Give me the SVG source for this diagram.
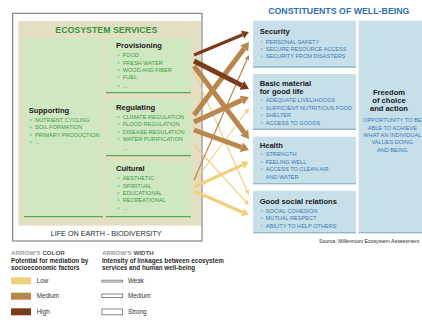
<svg xmlns="http://www.w3.org/2000/svg" width="422" height="320" viewBox="0 0 422 320">
  <style>
    text { font-family: "Liberation Sans", Arial, sans-serif; }
    .bg { fill: #ffffff; }
    .frame { fill: #ffffff; stroke: #6f6f6f; stroke-width: 1; }
    .beige { fill: #e4dfc2; }
    .gbox { fill: #cfe8c1; }
    .gedge { stroke: #4fae55; stroke-width: 1.2; }
    .bbox { fill: #c6dfe8; }
    .bedge { stroke: #8db7ca; stroke-width: 1.4; }
    .h-green { font-size: 8.8px; font-weight: bold; fill: #2f9a3c; }
    .h-blue { font-size: 8.8px; font-weight: bold; fill: #2c6fb3; }
    .ttl { font-size: 7.6px; font-weight: bold; fill: #1a1a1a; }
    .gi { font-size: 5.6px; fill: #3d9e44; }
    .bi { font-size: 5.6px; fill: #3a7bbd; }
    .gb { fill: #8fd08a; }
    .bb { fill: #9ec4dc; }
    .base { font-size: 7.2px; fill: #2b2b2b; }
    .src { font-size: 5.2px; fill: #2b2b2b; }
    .lg-h { font-size: 6.2px; font-weight: bold; fill: #9a9a9a; }
    .lg-hd { fill: #555555; }
    .lg-b { font-size: 6.3px; font-weight: bold; fill: #2b2b2b; }
    .lg-t { font-size: 6.3px; fill: #333333; }
    .wsym { fill: #ffffff; stroke: #6a6a6a; stroke-width: 0.8; }
    .lo { stroke: #f2cf7d; fill: none; }
    .md { stroke: #b9864b; fill: none; }
    .hi { stroke: #7b3b1b; fill: none; }
    .t { stroke-width: 1.2; }
    .m { stroke-width: 3.2; }
    .s { stroke-width: 5; }
  </style>
  <defs>
    <marker id="hd-hi-m" markerUnits="userSpaceOnUse" orient="auto" refX="0" refY="0" markerWidth="10" markerHeight="10" overflow="visible"><path d="M0,-4.2 L7,0 L0,4.2 z" fill="#7b3b1b"/></marker>
    <marker id="hd-hi-s" markerUnits="userSpaceOnUse" orient="auto" refX="0" refY="0" markerWidth="10" markerHeight="10" overflow="visible"><path d="M0,-5 L8,0 L0,5 z" fill="#7b3b1b"/></marker>
    <marker id="hd-md-s" markerUnits="userSpaceOnUse" orient="auto" refX="0" refY="0" markerWidth="10" markerHeight="10" overflow="visible"><path d="M0,-5 L8,0 L0,5 z" fill="#b9864b"/></marker>
    <marker id="hd-md-t" markerUnits="userSpaceOnUse" orient="auto" refX="0" refY="0" markerWidth="10" markerHeight="10" overflow="visible"><path d="M0,-2.4 L5,0 L0,2.4 z" fill="#b9864b"/></marker>
    <marker id="hd-lo-t" markerUnits="userSpaceOnUse" orient="auto" refX="0" refY="0" markerWidth="10" markerHeight="10" overflow="visible"><path d="M0,-2.4 L5,0 L0,2.4 z" fill="#f2cf7d"/></marker>
    <marker id="hd-lo-m" markerUnits="userSpaceOnUse" orient="auto" refX="0" refY="0" markerWidth="10" markerHeight="10" overflow="visible"><path d="M0,-4.2 L7,0 L0,4.2 z" fill="#f2cf7d"/></marker>
  </defs>

  <rect class="bg" x="0" y="0" width="422" height="320"/>

  <!-- Ecosystem services panel -->
  <g id="ecosystem-services">
    <rect class="frame" x="12.7" y="13.3" width="189.3" height="227.7"/>
    <rect class="beige" x="18.3" y="21" width="182.7" height="204.7"/>
    <text class="h-green" x="106.3" y="33.2" text-anchor="middle">ECOSYSTEM SERVICES</text>
    <text class="base" x="106.2" y="236.2" text-anchor="middle">LIFE ON EARTH - BIODIVERSITY</text>
  </g>

  <g id="supporting">
    <rect class="gbox" x="24" y="38" width="79" height="179"/>
    <line class="gedge" x1="24" y1="216.6" x2="103" y2="216.6"/>
    <text class="ttl" x="28.7" y="112.6">Supporting</text>
    <rect class="gb" x="29.8" y="119" width="2" height="2"/>
    <text class="gi" x="35" y="122">NUTRIENT CYCLING</text>
    <rect class="gb" x="29.8" y="126.3" width="2" height="2"/>
    <text class="gi" x="35" y="129.3">SOIL FORMATION</text>
    <rect class="gb" x="29.8" y="133.7" width="2" height="2"/>
    <text class="gi" x="35" y="136.7">PRIMARY PRODUCTION</text>
    <rect class="gb" x="29.8" y="141.3" width="2" height="2"/>
    <text class="gi" x="35" y="144.3">...</text>
  </g>

  <g id="provisioning">
    <rect class="gbox" x="106" y="38" width="85" height="55"/>
    <line class="gedge" x1="106" y1="92.6" x2="191" y2="92.6"/>
    <text class="ttl" x="116" y="48">Provisioning</text>
    <rect class="gb" x="117.4" y="54.3" width="2" height="2"/>
    <text class="gi" x="122.7" y="57.3">FOOD</text>
    <rect class="gb" x="117.4" y="61.7" width="2" height="2"/>
    <text class="gi" x="122.7" y="64.7">FRESH WATER</text>
    <rect class="gb" x="117.4" y="69" width="2" height="2"/>
    <text class="gi" x="122.7" y="72">WOOD AND FIBER</text>
    <rect class="gb" x="117.4" y="76.3" width="2" height="2"/>
    <text class="gi" x="122.7" y="79.3">FUEL</text>
    <rect class="gb" x="117.4" y="85" width="2" height="2"/>
    <text class="gi" x="122.7" y="88">...</text>
  </g>

  <g id="regulating">
    <rect class="gbox" x="106" y="99" width="85" height="57"/>
    <line class="gedge" x1="106" y1="155.6" x2="191" y2="155.6"/>
    <text class="ttl" x="116" y="110">Regulating</text>
    <rect class="gb" x="117.4" y="116" width="2" height="2"/>
    <text class="gi" x="122.7" y="119">CLIMATE REGULATION</text>
    <rect class="gb" x="117.4" y="123.3" width="2" height="2"/>
    <text class="gi" x="122.7" y="126.3">FLOOD REGULATION</text>
    <rect class="gb" x="117.4" y="130.7" width="2" height="2"/>
    <text class="gi" x="122.7" y="133.7">DISEASE REGULATION</text>
    <rect class="gb" x="117.4" y="138.3" width="2" height="2"/>
    <text class="gi" x="122.7" y="141.3">WATER PURIFICATION</text>
    <text class="gi" x="122.7" y="149.5">...</text>
  </g>

  <g id="cultural">
    <rect class="gbox" x="106" y="161" width="85" height="56"/>
    <line class="gedge" x1="106" y1="216.6" x2="191" y2="216.6"/>
    <text class="ttl" x="116" y="171">Cultural</text>
    <rect class="gb" x="117.4" y="177.3" width="2" height="2"/>
    <text class="gi" x="122.7" y="180.3">AESTHETIC</text>
    <rect class="gb" x="117.4" y="184.7" width="2" height="2"/>
    <text class="gi" x="122.7" y="187.7">SPIRITUAL</text>
    <rect class="gb" x="117.4" y="192" width="2" height="2"/>
    <text class="gi" x="122.7" y="195">EDUCATIONAL</text>
    <rect class="gb" x="117.4" y="199.3" width="2" height="2"/>
    <text class="gi" x="122.7" y="202.3">RECREATIONAL</text>
    <rect class="gb" x="117.4" y="207.3" width="2" height="2"/>
    <text class="gi" x="122.7" y="210.3">...</text>
  </g>

  <!-- Constituents of well-being -->
  <g id="well-being-title">
    <text class="h-blue" x="338.8" y="14" text-anchor="middle">CONSTITUENTS OF WELL-BEING</text>
  </g>

  <g id="security">
    <rect class="bbox" x="253" y="20.7" width="103" height="47"/>
    <line class="bedge" x1="253" y1="67" x2="356" y2="67"/>
    <text class="ttl" x="259.7" y="34.3">Security</text>
    <rect class="bb" x="260.7" y="40.7" width="2" height="2"/>
    <text class="bi" x="265.7" y="43.7">PERSONAL SAFETY</text>
    <rect class="bb" x="260.7" y="48" width="2" height="2"/>
    <text class="bi" x="265.7" y="51">SECURE RESOURCE ACCESS</text>
    <rect class="bb" x="260.7" y="55.3" width="2" height="2"/>
    <text class="bi" x="265.7" y="58.3">SECURITY FROM DISASTERS</text>
  </g>

  <g id="basic-material">
    <rect class="bbox" x="253" y="74" width="103" height="56"/>
    <line class="bedge" x1="253" y1="129.3" x2="356" y2="129.3"/>
    <text class="ttl" x="259.7" y="86">Basic material</text>
    <text class="ttl" x="259.7" y="94.4">for good life</text>
    <rect class="bb" x="260.7" y="99.3" width="2" height="2"/>
    <text class="bi" x="265.7" y="102.3">ADEQUATE LIVELIHOODS</text>
    <rect class="bb" x="260.7" y="106.7" width="2" height="2"/>
    <text class="bi" x="265.7" y="109.7">SUFFICIENT NUTRITIOUS FOOD</text>
    <rect class="bb" x="260.7" y="114.3" width="2" height="2"/>
    <text class="bi" x="265.7" y="117.3">SHELTER</text>
    <rect class="bb" x="260.7" y="121.7" width="2" height="2"/>
    <text class="bi" x="265.7" y="124.7">ACCESS TO GOODS</text>
  </g>

  <g id="health">
    <rect class="bbox" x="253" y="136.7" width="103" height="47.6"/>
    <line class="bedge" x1="253" y1="183.6" x2="356" y2="183.6"/>
    <text class="ttl" x="259.7" y="147.7">Health</text>
    <rect class="bb" x="260.7" y="153.3" width="2" height="2"/>
    <text class="bi" x="265.7" y="156.3">STRENGTH</text>
    <rect class="bb" x="260.7" y="161" width="2" height="2"/>
    <text class="bi" x="265.7" y="164">FEELING WELL</text>
    <rect class="bb" x="260.7" y="168.3" width="2" height="2"/>
    <text class="bi" x="265.7" y="171.3">ACCESS TO CLEAN AIR</text>
    <text class="bi" x="265.7" y="178.7">AND WATER</text>
  </g>

  <g id="social-relations">
    <rect class="bbox" x="253" y="190.7" width="103" height="42.6"/>
    <line class="bedge" x1="253" y1="232.6" x2="356" y2="232.6"/>
    <text class="ttl" x="259.7" y="204">Good social relations</text>
    <rect class="bb" x="260.7" y="209.7" width="2" height="2"/>
    <text class="bi" x="265.7" y="212.7">SOCIAL COHESION</text>
    <rect class="bb" x="260.7" y="217" width="2" height="2"/>
    <text class="bi" x="265.7" y="220">MUTUAL RESPECT</text>
    <rect class="bb" x="260.7" y="224.7" width="2" height="2"/>
    <text class="bi" x="265.7" y="227.7">ABILITY TO HELP OTHERS</text>
  </g>

  <g id="freedom">
    <rect class="bbox" x="358.7" y="20.7" width="70" height="212.6"/>
    <line class="bedge" x1="358.7" y1="232.6" x2="428" y2="232.6"/>
    <text class="ttl" x="389" y="95" text-anchor="middle">Freedom</text>
    <text class="ttl" x="389" y="103" text-anchor="middle">of choice</text>
    <text class="ttl" x="389" y="111.4" text-anchor="middle">and action</text>
    <text class="bi" x="392.3" y="122.3" text-anchor="middle">OPPORTUNITY TO BE</text>
    <text class="bi" x="392.3" y="129.7" text-anchor="middle">ABLE TO ACHIEVE</text>
    <text class="bi" x="392.3" y="137" text-anchor="middle">WHAT AN INDIVIDUAL</text>
    <text class="bi" x="392.3" y="144.3" text-anchor="middle">VALUES DOING</text>
    <text class="bi" x="392.3" y="151.7" text-anchor="middle">AND BEING</text>
  </g>

  <text class="src" x="319" y="242.6">Source: Millennium Ecosystem Assessment</text>

  <!-- Linkage arrows: colour = mediation potential, width = intensity -->
  <g id="connectors">
    <line class="lo t" x1="194" y1="72" x2="246.96" y2="190.44" marker-end="url(#hd-lo-t)"/>
    <line class="lo t" x1="194" y1="145" x2="245.62" y2="201.31" marker-end="url(#hd-lo-t)"/>
    <line class="lo t" x1="194" y1="182" x2="246.02" y2="112.01" marker-end="url(#hd-lo-t)"/>
    <line class="md t" x1="194" y1="180" x2="246.99" y2="59.58" marker-end="url(#hd-md-t)"/>
    <line class="lo m" x1="194" y1="187" x2="242.63" y2="164.9" marker-end="url(#hd-lo-m)"/>
    <line class="lo m" x1="194" y1="191" x2="242.58" y2="212.2" marker-end="url(#hd-lo-m)"/>
    <line class="md s" x1="194" y1="130" x2="241.48" y2="147.27" marker-end="url(#hd-md-s)"/>
    <line class="md s" x1="194" y1="66" x2="244.19" y2="132.61" marker-end="url(#hd-md-s)"/>
    <line class="md s" x1="194" y1="122" x2="241.72" y2="100.31" marker-end="url(#hd-md-s)"/>
    <line class="md s" x1="194" y1="115" x2="244.19" y2="48.39" marker-end="url(#hd-md-s)"/>
    <line class="hi m" x1="194" y1="55" x2="242.54" y2="34.7" marker-end="url(#hd-hi-m)"/>
    <line class="hi s" x1="194" y1="61" x2="241.87" y2="85.37" marker-end="url(#hd-hi-s)"/>
  </g>

  <!-- Legend -->
  <g id="legend-colour">
    <text class="lg-h" x="11" y="254.8">ARROW'S <tspan class="lg-hd">COLOR</tspan></text>
    <text class="lg-b" x="11" y="263">Potential for mediation by</text>
    <text class="lg-b" x="11" y="270.4">socioeconomic factors</text>
    <rect x="11" y="277.3" width="20" height="7" fill="#f2cf7d"/>
    <text class="lg-t" x="36.7" y="283">Low</text>
    <rect x="11" y="292.7" width="20" height="7" fill="#b9864b"/>
    <text class="lg-t" x="36.7" y="298.4">Medium</text>
    <rect x="11" y="308.3" width="20" height="7" fill="#7b3b1b"/>
    <text class="lg-t" x="36.7" y="314">High</text>
  </g>

  <g id="legend-width">
    <text class="lg-h" x="102" y="254.8">ARROW'S <tspan class="lg-hd">WIDTH</tspan></text>
    <text class="lg-b" x="102" y="263">Intensity of linkages between ecosystem</text>
    <text class="lg-b" x="102" y="270.4">services and human well-being</text>
    <rect class="wsym" x="101.9" y="280.2" width="20.8" height="1.8"/>
    <text class="lg-t" x="128" y="283">Weak</text>
    <rect class="wsym" x="101.9" y="294" width="20.8" height="3.6"/>
    <text class="lg-t" x="128" y="298.4">Medium</text>
    <rect class="wsym" x="101.9" y="309" width="20.8" height="5.8"/>
    <text class="lg-t" x="128" y="314">Strong</text>
  </g>
</svg>
